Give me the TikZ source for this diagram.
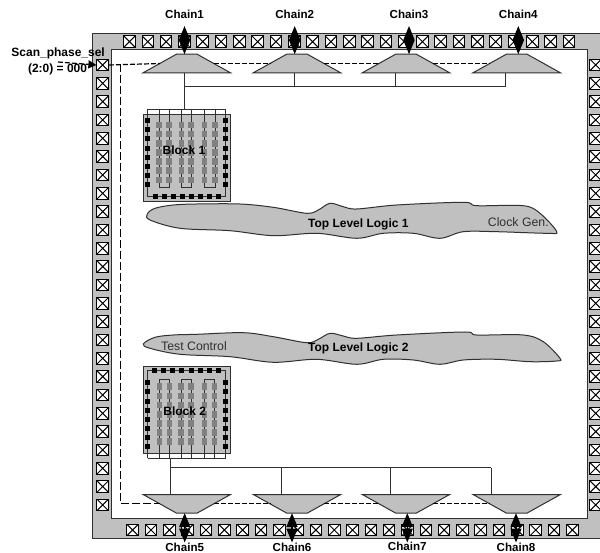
\documentclass[tikz,border=0pt]{standalone}
\usepackage{fontspec}
\setmainfont{Liberation Sans}
\usetikzlibrary{shapes.geometric,arrows.meta}
\definecolor{ChipGray}{HTML}{C0C0C0}
\definecolor{ChipEdge}{HTML}{303030}
\definecolor{CellGray}{HTML}{808080}
\tikzset{
  padbox/.style={draw=black,fill=white,line width=1pt,minimum size=11.6pt,inner sep=0pt,
    path picture={\draw[line width=1pt] (path picture bounding box.north west) -- (path picture bounding box.south east)
      (path picture bounding box.north east) -- (path picture bounding box.south west);}},
  muxtop/.style={trapezium,trapezium stretches=true,trapezium left angle=28,trapezium right angle=28,
    minimum width=87.7pt,minimum height=18.6pt,inner sep=1pt,outer sep=0pt,draw=ChipEdge,fill=ChipGray,line width=1pt},
  muxbot/.style={muxtop,shape border rotate=180},
  blockbox/.style={rectangle,draw=ChipEdge,fill=ChipGray,line width=1pt,minimum width=87pt,minimum height=87pt,inner sep=0pt},
  scanwire/.style={draw=black,line width=1.2pt,dash pattern=on 5pt off 2pt},
  wire/.style={draw=ChipEdge,line width=1pt},
  chainarrow/.style={{Triangle[width=11pt,length=14pt]}-{Triangle[width=11pt,length=14pt]},line width=1.4pt,black},
  boldtext/.style={font=\bfseries\fontsize{12}{14}\selectfont,inner sep=0pt,align=center},
  chaintext/.style={font=\bfseries\fontsize{11.6}{14}\selectfont,inner sep=0pt},
  plaintext/.style={font=\fontsize{12.3}{14}\selectfont,inner sep=0pt,text=ChipEdge},
  blackcell/.style={fill=black,minimum size=5pt,inner sep=0pt},
  graycell/.style={fill=CellGray,minimum width=5.5pt,minimum height=6.5pt,inner sep=0pt},
  logicblob/.style={draw=ChipEdge,fill=ChipGray,line width=1pt},
}
\begin{document}
\begin{tikzpicture}[x=1pt,y=-1pt]
\path[use as bounding box] (0,0) rectangle (600,553);
% chip ring
\fill[ChipGray] (92.7,33.5) rectangle (606,538);
\draw[ChipEdge,line width=1pt] (606,33.5) -- (92.7,33.5) -- (92.7,538) -- (606,538);
\draw[ChipEdge,line width=1pt,fill=white] (111,50) rectangle (587.7,518);
% pads
\foreach \n in {1,...,25} {
  \node[padbox] (ptop\n) at ({129.5+18.31*(\n-1)},41.7) {};
  \node[padbox] (pbot\n) at ({132.7+18.32*(\n-1)},530) {};
  \node[padbox] (pleft\n) at (102.7,{65+18.33*(\n-1)}) {};
  \node[padbox] (pright\n) at (595.7,{65+18.33*(\n-1)}) {};
}
% scan path
\coordinate (scanin) at (58,62);
\coordinate (turn) at (120.7,64);
\node[muxtop] (mux1) at (186.8,63.5) {\phantom{M}};
\node[muxtop] (mux2) at (297,63.5) {\phantom{M}};
\node[muxtop] (mux3) at (406,63.5) {\phantom{M}};
\node[muxtop] (mux4) at (516.7,63.5) {\phantom{M}};
\node[muxbot] (mux5) at (186.8,503.8) {\phantom{M}};
\node[muxbot] (mux6) at (297,503.8) {\phantom{M}};
\node[muxbot] (mux7) at (406,503.8) {\phantom{M}};
\node[muxbot] (mux8) at (516.7,503.8) {\phantom{M}};
\draw[scanwire,-{Triangle[width=8pt,length=8pt]}] (scanin) -- (pleft1.west);
\draw[scanwire] (pleft1.east) -- (mux1.west);
\draw[scanwire,dash pattern=on 8pt off 3pt] (turn) -- (turn |- mux5.west) -- (mux5.west);
\foreach \a/\b in {1/2,2/3,3/4,5/6,6/7,7/8}
  \draw[scanwire] (mux\a.east) -- (mux\b.west);
% block 1
\node[blockbox] (block1) at (187.2,157.8) {};
\coordinate (comb1) at (184.5,109.3);
\draw[wire] (147.7,109.3) -- (226,109.3);
\draw[wire] (147.7,109.3) -- (147.7,196.7) -- (225.5,196.7) -- (225.5,109.3);
\foreach \a/\b in {159/169,181.7/191,204.3/215}
  \draw[wire] (\a,109.3) -- (\a,187.3) -- (\b,187.3) -- (\b,109.3);
\foreach \y in {120.7,129.8,139,148.1,157.2,166.4,175.5,184.7} {
  \node[blackcell] at (147.7,\y) {};
  \node[blackcell] at (225.5,\y) {};
}
\foreach \x in {155,164.3,173.3,182.7,191.7,200.7,209.3,218.3}
  \node[blackcell] at (\x,196.7) {};
\foreach \x in {159,169,181.7,191,204.3,215}
  \foreach \y in {125,134.2,143.3,152.4,161.6,170.7,179.9}
    \node[graycell] at (\x,\y) {};
\node[boldtext] (block1text) at (184,150.7) {Block 1};
% block 2
\node[blockbox] (block2) at (186.8,410) {};
\coordinate (comb2) at (170.7,458.3);
\draw[wire] (147.7,458.3) -- (226,458.3);
\draw[wire] (147.7,458.3) -- (147.7,371) -- (225.7,371) -- (225.7,458.3);
\foreach \a/\b in {159.3/169.3,181/191,204.3/214.3}
  \draw[wire] (\a,458.3) -- (\a,380) -- (\b,380) -- (\b,458.3);
\foreach \y in {382.7,391.8,401,410,419,428.3,437.4,446.3} {
  \node[blackcell] at (147.7,\y) {};
  \node[blackcell] at (225.7,\y) {};
}
\foreach \x in {154.3,163.3,172.7,181.7,191,200,209.3,218.3}
  \node[blackcell] at (\x,371) {};
\foreach \x in {159.3,169.3,181,191,204.3,214.3}
  \foreach \y in {386.7,396,405,414.3,423.3,432.7,441.7}
    \node[graycell] at (\x,\y) {};
\node[boldtext] (block2text) at (184.7,411.7) {Block 2};
% chain buses
\coordinate (tap1) at (184.5,86.7);
\coordinate (tap2) at (294.7,86.7);
\coordinate (tap3) at (395.3,86.7);
\coordinate (tap4) at (505,86.7);
\draw[wire] (tap1 |- mux1.south) -- (comb1);
\draw[wire] (tap1) -- (tap4);
\foreach \n in {2,3,4}
  \draw[wire] (tap\n) -- (tap\n |- mux\n.south);
\coordinate (tap5) at (170.7,467.7);
\coordinate (tap6) at (281,467.7);
\coordinate (tap7) at (390.3,467.7);
\coordinate (tap8) at (491,467.7);
\draw[wire] (comb2) -- (tap5 |- mux5.north);
\draw[wire] (tap5) -- (tap8);
\foreach \n in {6,7,8}
  \draw[wire] (tap\n) -- (tap\n |- mux\n.north);
% logic
\draw[logicblob] plot[smooth cycle,tension=0.55] coordinates {(147.3,214) (155,208.3) (173.3,205) (196.7,204) (240,204) (273.3,207.3) (306.7,213.3) (318.3,210) (330,203.3) (343.3,206.7) (356.7,209) (396.7,205) (463.3,202.3) (476.7,205.7) (523.3,205.7) (540,213.3) (556.7,231.7) (546.7,233.3) (496.7,231.7) (463.3,231.7) (440,238.3) (413.3,233.3) (383.3,233.3) (356.7,238.3) (316.7,233.3) (273.3,235.7) (230,230.7) (180,228.3) (150,220)};
\draw[logicblob] plot[smooth cycle,tension=0.55] coordinates {(143.3,344) (155,337.3) (173.3,335) (196.7,334.3) (243.3,332.7) (273.3,336.7) (306.7,342.7) (318.3,339.3) (330,333.3) (343.3,336) (356.7,338.3) (396.7,335) (465,332) (476.7,335) (523.3,335) (543.3,341.7) (560,358.3) (556.7,361) (530,361.7) (496.7,359.3) (463.3,360) (440,364.3) (413.3,360) (383.3,359.3) (356.7,364.3) (316.7,359.3) (273.3,362.3) (230,356.7) (180,354.3) (150,348.3)};
\node[boldtext] (logic1) at (358.3,224) {Top Level Logic 1};
\node[boldtext] (logic2) at (358.3,348) {Top Level Logic 2};
\node[plaintext] (clockgen) at (518.3,222) {Clock Gen.};
\node[plaintext] (testctl) at (194,346) {Test Control};
% chain arrows and labels
\foreach \n/\x in {1/184.5,2/294.7,3/409,4/518.3} {
  \node[chaintext] (chain\n) at (\x,14.7) {Chain\n};
  \coordinate (up\n) at (\x,26);
  \draw[chainarrow] (up\n) -- (up\n |- mux\n.north);
}
\foreach \n/\x/\y in {5/184.7/547.7,6/292/547.7,7/407.3/546.7,8/516/547.7} {
  \node[chaintext] (chain\n) at (\x,\y) {Chain\n};
  \coordinate (down\n) at (\x,542.5);
  \draw[chainarrow] (down\n |- mux\n.south) -- (down\n);
}
\node[boldtext,anchor=east] (scansel) at (105,53.3) {Scan\_phase\_sel};
\node[boldtext,anchor=east] (scanval) at (87.3,69.3) {(2:0) = 000};
\end{tikzpicture}
\end{document}
